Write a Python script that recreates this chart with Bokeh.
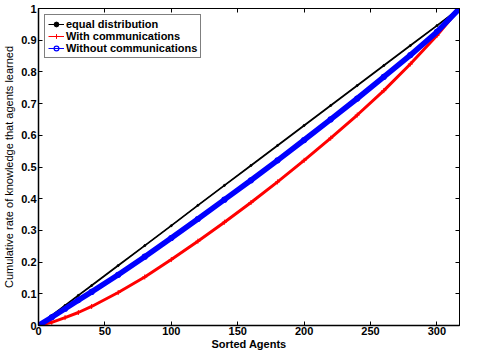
from bokeh.plotting import figure
from bokeh.models import LinearAxis, FixedTicker, Range1d, Legend, LegendItem
from bokeh.embed import file_html
from bokeh.resources import INLINE

# ---- data ----
agents = [0, 10, 20, 30, 40, 60, 80, 100, 120, 140, 160, 180, 200, 220, 240, 260, 280, 300, 317]
equal_distribution = [0.0, 0.0315, 0.063, 0.095, 0.126, 0.189, 0.252, 0.315, 0.379, 0.442,
                      0.505, 0.568, 0.631, 0.694, 0.757, 0.820, 0.883, 0.946, 1.0]
with_comm = [0.0, 0.010, 0.025, 0.041, 0.060, 0.104, 0.153, 0.208, 0.266, 0.326,
             0.388, 0.453, 0.521, 0.591, 0.664, 0.741, 0.825, 0.915, 1.0]
without_comm = [0.0, 0.026, 0.053, 0.080, 0.106, 0.160, 0.217, 0.276, 0.336, 0.397,
                0.458, 0.521, 0.585, 0.650, 0.716, 0.784, 0.853, 0.926, 1.0]

x_ticks = [0, 50, 100, 150, 200, 250, 300]
y_ticks = [0, 0.1, 0.2, 0.3, 0.4, 0.5, 0.6, 0.7, 0.8, 0.9, 1]
y_tick_labels = {0: "0", 1: "1"}

FONT = "Liberation Sans"

p = figure(width=461, height=352, output_backend="svg", toolbar_location=None,
           x_range=Range1d(0, 317), y_range=Range1d(0, 1),
           min_border_left=29, min_border_right=2, min_border_top=8, min_border_bottom=0)
p.background_fill_color = "white"
p.border_fill_color = "white"
p.outline_line_color = "black"
p.outline_line_width = 1
p.xgrid.visible = False
p.ygrid.visible = False

for ax in (p.xaxis[0], p.yaxis[0]):
    ax.major_tick_in = 4
    ax.major_tick_out = 0
    ax.minor_tick_in = 0
    ax.minor_tick_out = 0
    ax.axis_line_color = "black"
    ax.axis_line_width = 1.5
    ax.major_tick_line_color = "black"
    ax.major_label_text_font = FONT
    ax.major_label_text_font_style = "bold"
    ax.major_label_text_font_size = "11px"
    ax.major_label_text_color = "black"
    ax.axis_label_text_font = FONT
    ax.axis_label_text_font_size = "11px"
    ax.axis_label_text_color = "black"

p.xaxis[0].ticker = FixedTicker(ticks=x_ticks)
p.yaxis[0].ticker = FixedTicker(ticks=y_ticks)
p.yaxis[0].major_label_overrides = y_tick_labels
p.xaxis[0].major_label_standoff = 1
p.yaxis[0].major_label_standoff = 2
p.xaxis[0].axis_label = "Sorted Agents"
p.xaxis[0].axis_label_text_font_style = "bold"
p.xaxis[0].axis_label_standoff = 0
p.yaxis[0].axis_label = "Cumulative rate of knowledge that agents learned"
p.yaxis[0].axis_label_text_font_style = "normal"
p.yaxis[0].axis_label_standoff = 3

top = LinearAxis(ticker=FixedTicker(ticks=x_ticks),
                 major_label_overrides={t: "" for t in x_ticks},
                 major_tick_in=4, major_tick_out=0, minor_tick_in=0, minor_tick_out=0,
                 major_label_standoff=0, axis_line_color="black")
right = LinearAxis(ticker=FixedTicker(ticks=y_ticks),
                   major_label_overrides={t: "" for t in y_ticks},
                   major_tick_in=4, major_tick_out=0, minor_tick_in=0, minor_tick_out=0,
                   major_label_standoff=0, axis_line_color="black")
p.add_layout(top, "above")
p.add_layout(right, "right")

# thin lines + markers (the legend shows these), drawn under the thick curves
t_eq = p.line(agents, equal_distribution, line_color="black", line_width=1)
m_eq = p.scatter(agents, equal_distribution, marker="circle", size=2,
                 line_color="black", fill_color="black")
t_w = p.line(agents, with_comm, line_color="red", line_width=1)
m_w = p.scatter(agents, with_comm, marker="cross", size=5, line_color="red", line_width=1)
t_wo = p.line(agents, without_comm, line_color="blue", line_width=1)
m_wo = p.scatter(agents, without_comm, marker="circle", size=5, line_color="blue",
                 fill_color=None, line_width=1.2)

# curves (thick, as drawn with dense markers in the original)
p.line(agents, equal_distribution, line_color="black", line_width=1.8, line_join="round")
p.line(agents, with_comm, line_color="red", line_width=3, line_join="round")
p.line(agents, without_comm, line_color="blue", line_width=5.5, line_join="round")

legend = Legend(items=[
    LegendItem(label="equal distribution", renderers=[t_eq, m_eq]),
    LegendItem(label="With communications", renderers=[t_w, m_w]),
    LegendItem(label="Without communications", renderers=[t_wo, m_wo]),
], location="top_left")
legend.label_text_font = FONT
legend.label_text_font_style = "bold"
legend.label_text_font_size = "11px"
legend.label_text_color = "black"
legend.label_height = 12
legend.glyph_height = 12
legend.glyph_width = 16
legend.label_standoff = 2
legend.spacing = 0
legend.padding = 3
legend.margin = 6
legend.border_line_color = "black"
legend.border_line_width = 1
legend.background_fill_alpha = 1
p.add_layout(legend)

open("out.html", "w").write(file_html(p, INLINE))
